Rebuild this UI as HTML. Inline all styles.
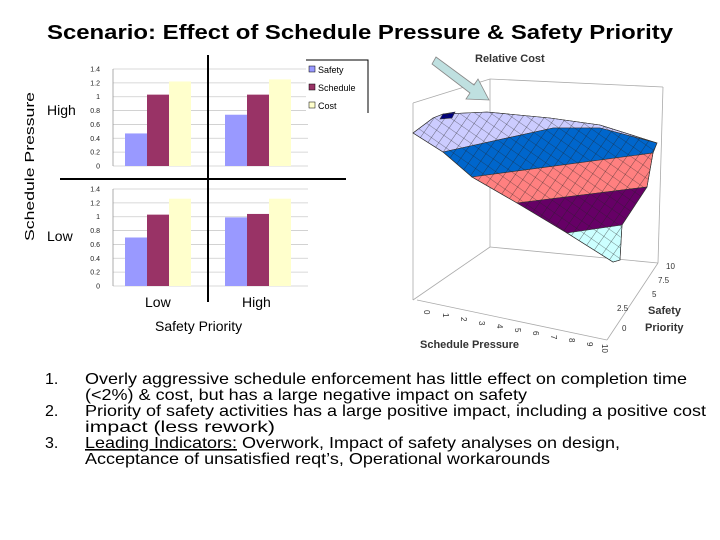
<!DOCTYPE html>
<html><head><meta charset="utf-8"><style>
html,body{margin:0;padding:0;background:#fff;}
svg{display:block;font-family:"Liberation Sans",Arial,sans-serif;}
</style></head><body>
<svg id="s" width="720" height="540" viewBox="0 0 720 540">
<defs>
<pattern id="hatch" width="9" height="9" patternUnits="userSpaceOnUse" patternTransform="rotate(35)">
<path d="M0 0 L0 9 M0 0 L9 0" stroke="#222" stroke-width="0.6" fill="none"/>
</pattern>
</defs>
<text x="47" y="39" font-size="20" font-weight="bold" textLength="626" lengthAdjust="spacingAndGlyphs">Scenario: Effect of Schedule Pressure &amp; Safety Priority</text>
<text transform="translate(34,241) rotate(-90)" font-size="13" textLength="149" lengthAdjust="spacingAndGlyphs">Schedule Pressure</text>
<text x="47" y="115" font-size="14">High</text>
<text x="47" y="241" font-size="14">Low</text>
<text x="145" y="307" font-size="14">Low</text>
<text x="242" y="307" font-size="14">High</text>
<text x="155" y="331" font-size="14">Safety Priority</text>
<g id="bars"></g>
<line x1="208" y1="55" x2="208" y2="302" stroke="#000" stroke-width="2"/>
<line x1="60" y1="179" x2="346" y2="179" stroke="#000" stroke-width="2"/>
<g>
<rect x="306" y="60" width="62" height="52" fill="#fff"/>
<polyline points="306,60 368,60 368,113" fill="none" stroke="#000" stroke-width="1"/>
<rect x="309" y="66" width="6" height="6" fill="#9999ff" stroke="#000" stroke-width="0.5"/>
<text x="318" y="73" font-size="9">Safety</text>
<rect x="309" y="84" width="6" height="6" fill="#993366" stroke="#000" stroke-width="0.5"/>
<text x="318" y="91" font-size="9">Schedule</text>
<rect x="309" y="102" width="6" height="6" fill="#ffffcc" stroke="#000" stroke-width="0.5"/>
<text x="318" y="109" font-size="9">Cost</text>
</g>
<g stroke="#aaa" stroke-width="0.8" fill="none">
<line x1="413" y1="103" x2="413" y2="300"/>
<line x1="490" y1="79" x2="490" y2="247"/>
<line x1="413" y1="103" x2="490" y2="79"/>
<line x1="490" y1="79" x2="663" y2="87"/>
<line x1="663" y1="87" x2="658" y2="263"/>
<line x1="490" y1="247" x2="658" y2="263"/>
<line x1="413" y1="300" x2="490" y2="247"/>
<line x1="417" y1="300" x2="607" y2="340"/>
<line x1="607" y1="340" x2="658" y2="263"/>
</g>
<g stroke="#333" stroke-width="0.6">
<polygon points="413,133 433,118 443,114 487,112 550,118 600,125 657,143 600,128 553,128 443,152" fill="#ccccff"/>
<polygon points="443,152 553,128 600,128 657,143 653,153 472,177" fill="#0066cc"/>
<polygon points="472,177 653,153 647,187 517,203" fill="#ff8080"/>
<polygon points="517,203 647,187 622,225 567,233" fill="#660066"/>
<polygon points="567,233 622,225 620,260 613,262" fill="#ccffff"/>
<polygon points="443,114 455,112 452,118 440,119" fill="#000080"/>
<polygon points="413,133 433,118 443,114 487,112 550,118 600,125 657,143 653,153 647,187 622,225 620,260 613,262 567,233 517,203 472,177 443,152" fill="url(#hatch)"/>
</g>
<polygon points="436,57 474,85 478,79 489,100 466,99 470,93 432,64" fill="#bfe0e0" stroke="#888" stroke-width="0.8"/>
<text x="475" y="62" font-size="11" font-weight="bold" fill="#333">Relative Cost</text>
<g font-size="8" fill="#333">
<text transform="translate(424,310) rotate(90)">0</text><text transform="translate(443,313) rotate(90)">1</text><text transform="translate(461,317) rotate(90)">2</text><text transform="translate(479,321) rotate(90)">3</text><text transform="translate(497,324) rotate(90)">4</text><text transform="translate(515,328) rotate(90)">5</text><text transform="translate(533,331) rotate(90)">6</text><text transform="translate(551,335) rotate(90)">7</text><text transform="translate(569,338) rotate(90)">8</text><text transform="translate(587,342) rotate(90)">9</text><text transform="translate(602,344) rotate(90)">10</text>
</g>
<g font-size="8" fill="#333">
<text x="666" y="269">10</text><text x="658" y="283">7.5</text><text x="652" y="297">5</text><text x="617" y="311">2.5</text><text x="622" y="331">0</text>
</g>
<text x="420" y="348" font-size="11" font-weight="bold" fill="#333">Schedule Pressure</text>
<text x="648" y="314" font-size="11" font-weight="bold" fill="#333">Safety</text>
<text x="645" y="331" font-size="11" font-weight="bold" fill="#333">Priority</text>
<g font-size="16">
<text x="45" y="384">1.</text>
<text x="85" y="384" textLength="602" lengthAdjust="spacingAndGlyphs">Overly aggressive schedule enforcement has little effect on completion time</text>
<text x="85" y="400" textLength="442" lengthAdjust="spacingAndGlyphs">(&lt;2%) &amp; cost, but has a large negative impact on safety</text>
<text x="45" y="416">2.</text>
<text x="85" y="416" textLength="621" lengthAdjust="spacingAndGlyphs">Priority of safety activities has a large positive impact, including a positive cost</text>
<text x="85" y="432" textLength="190" lengthAdjust="spacingAndGlyphs">impact (less rework)</text>
<text x="45" y="448">3.</text>
<text x="85" y="448" textLength="535" lengthAdjust="spacingAndGlyphs"><tspan text-decoration="underline">Leading Indicators:</tspan> Overwork, Impact of safety analyses on design,</text>
<text x="85" y="464" textLength="465" lengthAdjust="spacingAndGlyphs">Acceptance of unsatisfied reqt’s, Operational workarounds</text>
</g>
</svg>
<script>
const quadrants = ["high-low","high-high","low-low","low-high"];
const seriesNames = ["safety","schedule","cost"];
const safetyVals = [0.47, 0.74, 0.70, 0.99];
const scheduleVals = [1.03, 1.03, 1.03, 1.04];
const costVals = [1.22, 1.25, 1.26, 1.26];
const yTicks = [0, 0.2, 0.4, 0.6, 0.8, 1, 1.2, 1.4];
const colors = ["#9999ff","#993366","#ffffcc"];
const NS = "http://www.w3.org/2000/svg";
const g = document.getElementById("bars");
const panels = [{x0:125,base:166},{x0:225,base:166},{x0:125,base:286},{x0:225,base:286}];
const ppu = 97/1.4;
function yScale(v, base){ return base - v*ppu; }
function mk(tag, attrs){ const e=document.createElementNS(NS,tag); for(const k in attrs) e.setAttribute(k,attrs[k]); g.appendChild(e); return e; }
[166,286].forEach((base,ri)=>{
  yTicks.forEach(t=>{
    const y=yScale(t,base);
    const l=mk("line",{x1:113,y1:y,x2:308,y2:y,stroke:"#ccc","stroke-width":0.8});
    
    
    const tx=mk("text",{x:100,y:y+2.5,"font-size":7,"text-anchor":"end",fill:"#222"});
    tx.textContent = String(t);
    
    
  });
  const ax=mk("line",{x1:113,y1:yScale(1.4,base),x2:113,y2:base,stroke:"#999","stroke-width":0.8});
  
  
});
const all=[safetyVals,scheduleVals,costVals];
quadrants.forEach((q,qi)=>{
  const p=panels[qi];
  all.forEach((arr,si)=>{
    const v=arr[qi];
    const r=mk("rect",{x:p.x0+si*22,y:yScale(v,p.base),width:22,height:v*ppu,fill:colors[si]});
    
    
  });
});
</script>
</body></html>
